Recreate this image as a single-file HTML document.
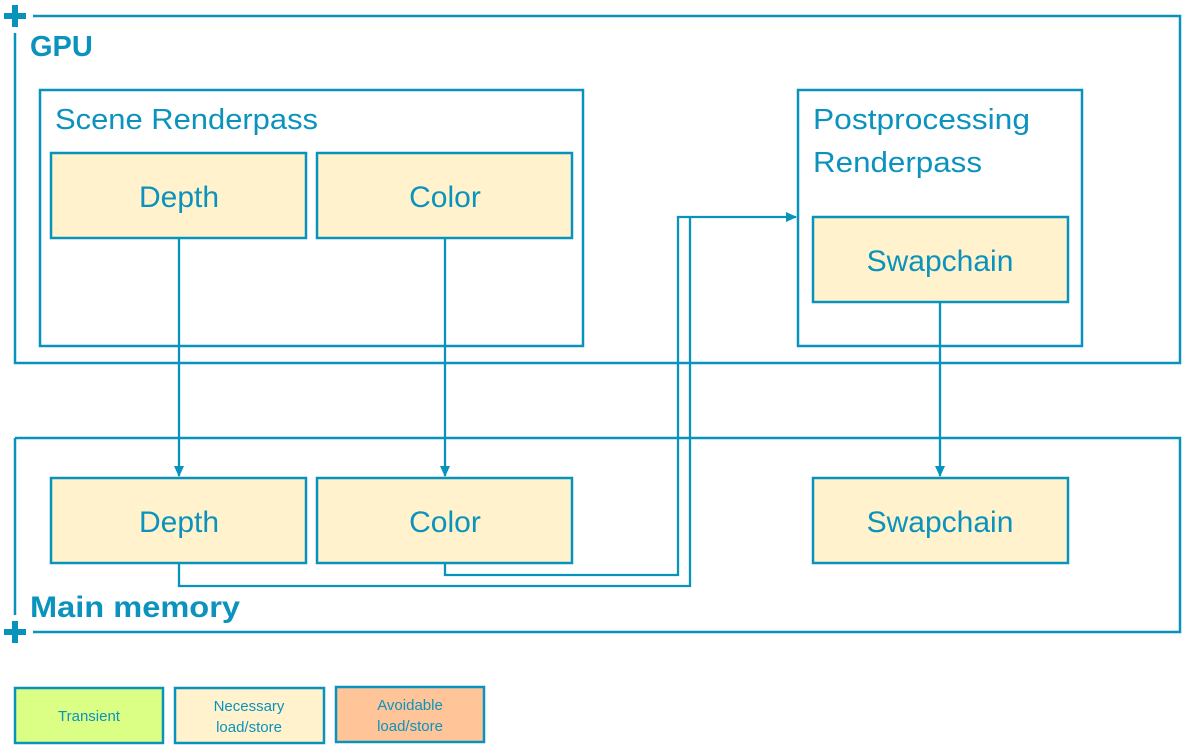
<!DOCTYPE html>
<html><head><meta charset="utf-8"><style>
html,body{margin:0;padding:0;background:#fff;width:1190px;height:752px;overflow:hidden}
svg{display:block}
text{font-family:"Liberation Sans",sans-serif;fill:#0b93bd}
</style></head><body>
<svg width="1190" height="752" viewBox="0 0 1190 752">
<defs><marker id="a" markerWidth="12" markerHeight="12" refX="10" refY="5" orient="auto" markerUnits="userSpaceOnUse"><path d="M0,0 L11,5 L0,10 Z" fill="#0893bd"/></marker></defs>
<g fill="none" stroke="#0893bd" stroke-width="2.5">
<path d="M33,16 H1180 V363 H15 V33"/>
<path d="M15,438 H1180 V632 H33 M15,615 V438"/>
<rect x="40" y="90" width="543" height="256"/>
<rect x="798" y="90" width="284" height="256"/>
</g>
<g fill="#0893bd">
<rect x="4" y="13" width="22" height="6"/><rect x="12" y="5" width="6" height="22"/>
<rect x="4" y="629" width="22" height="6"/><rect x="12" y="621" width="6" height="22"/>
</g>
<g fill="#fff2cc" stroke="#0893bd" stroke-width="2.5">
<rect x="51" y="153" width="255" height="85"/>
<rect x="317" y="153" width="255" height="85"/>
<rect x="813" y="217" width="255" height="85"/>
<rect x="51" y="478" width="255" height="85"/>
<rect x="317" y="478" width="255" height="85"/>
<rect x="813" y="478" width="255" height="85"/>
<rect x="15" y="688" width="148" height="55" fill="#dbff85"/>
<rect x="175" y="688" width="149" height="55"/>
<rect x="336" y="687" width="148" height="55" fill="#ffc599"/>
</g>
<g fill="none" stroke="#0893bd" stroke-width="2.3">
<path d="M179,238 V476" marker-end="url(#a)"/>
<path d="M445,238 V476" marker-end="url(#a)"/>
<path d="M940,302 V476" marker-end="url(#a)"/>
<path d="M179,563 V586 H690 V218"/>
<path d="M445,563 V575 H678 V217 H796" marker-end="url(#a)"/>
</g>
<text x="30" y="56" font-size="29" font-weight="bold">GPU</text>
<text x="30" y="617" font-size="30" font-weight="bold" textLength="210" lengthAdjust="spacingAndGlyphs">Main memory</text>
<text x="55" y="129" font-size="29" textLength="263" lengthAdjust="spacingAndGlyphs">Scene Renderpass</text>
<text x="813" y="129" font-size="29" textLength="217" lengthAdjust="spacingAndGlyphs">Postprocessing</text>
<text x="813" y="172" font-size="29" textLength="169" lengthAdjust="spacingAndGlyphs">Renderpass</text>
<g font-size="30" text-anchor="middle">
<text x="179" y="207">Depth</text>
<text x="445" y="207">Color</text>
<text x="940" y="271">Swapchain</text>
<text x="179" y="532">Depth</text>
<text x="445" y="532">Color</text>
<text x="940" y="532">Swapchain</text>
</g>
<g font-size="15" text-anchor="middle">
<text x="89" y="721">Transient</text>
<text x="249" y="711">Necessary</text>
<text x="249" y="732">load/store</text>
<text x="410" y="710">Avoidable</text>
<text x="410" y="731">load/store</text>
</g>
</svg>
</body></html>
